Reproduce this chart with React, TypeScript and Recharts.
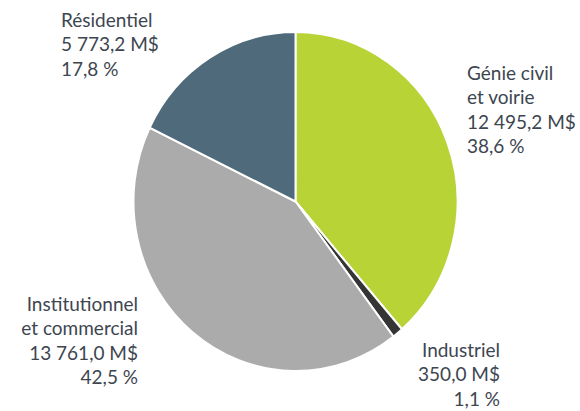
import { PieChart, Pie, Cell } from "recharts";

const categories = ["Génie civil et voirie", "Industriel", "Institutionnel et commercial", "Résidentiel"];
const labelLines = [
  ["Génie civil", "et voirie"],
  ["Industriel"],
  ["Institutionnel", "et commercial"],
  ["Résidentiel"],
];
const amounts = [12495.2, 350.0, 13761.0, 5773.2];
const percents = [38.6, 1.1, 42.5, 17.8];
const colors = ["#b8d335", "#353535", "#ababab", "#4f6a7b"];

const CX = 295.5;
const CY = 201.5;
const R = 166;

// label placement relative to pie center (first baseline)
const labelOffsets = [
  { dx: 171.5, dy: -121.5, anchor: "start" },
  { dx: 204.5, dy: 155.5, anchor: "end" },
  { dx: -157.5, dy: 109.5, anchor: "end" },
  { dx: -234.5, dy: -174.5, anchor: "start" },
];

const data = categories.map((name, i) => ({ name, value: amounts[i] }));

const fmtAmount = (v: number) => {
  const [int, dec] = v.toFixed(1).split(".");
  const withSpaces = int.replace(/\B(?=(\d{3})+(?!\d))/g, " ");
  return `${withSpaces},${dec} M$`;
};

const fmtPct = (v: number) => `${v.toFixed(1).replace(".", ",")} %`;

function renderLabel(props: any) {
  const { cx, cy, index } = props;
  const off = labelOffsets[index];
  const lines = [...labelLines[index], fmtAmount(amounts[index]), fmtPct(percents[index])];
  return (
    <text
      x={cx + off.dx}
      y={cy + off.dy}
      textAnchor={off.anchor}
      fill="#3d4650"
      fontSize={19}
      fontFamily="Lato, 'Open Sans', sans-serif"
    >
      {lines.map((l, j) => (
        <tspan key={j} x={cx + off.dx} dy={j === 0 ? 0 : 24.4}>
          {l}
        </tspan>
      ))}
    </text>
  );
}

// the original pie is slightly taller than wide
const sectorStyle = {
  transformOrigin: `${CX}px ${CY}px`,
  transform: "scale(0.976, 1.021)",
};

export default function App() {
  return (
    <div style={{ position: "absolute", left: 0, top: 0 }}>
      <PieChart width={580} height={411} margin={{ top: 0, right: 0, bottom: 0, left: 0 }}>
        <Pie
          data={data}
          dataKey="value"
          cx={CX}
          cy={CY}
          outerRadius={R}
          startAngle={90}
          endAngle={-270}
          stroke="#ffffff"
          strokeWidth={2}
          label={renderLabel}
          labelLine={false}
          isAnimationActive={false}
        >
          {data.map((d, i) => (
            <Cell key={d.name} fill={colors[i]} style={sectorStyle} />
          ))}
        </Pie>
      </PieChart>
    </div>
  );
}
